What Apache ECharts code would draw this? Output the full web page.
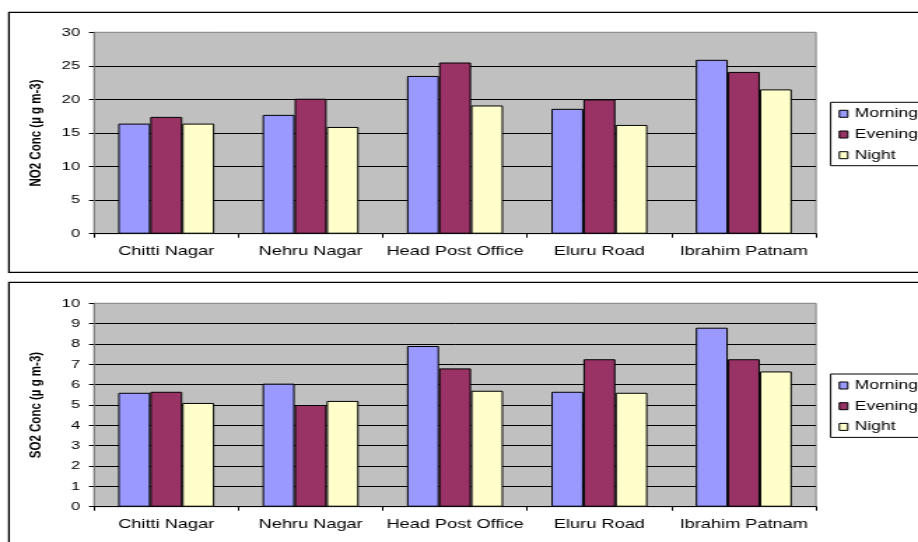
<!DOCTYPE html>
<html>
<head>
<meta charset="utf-8">
<script src="https://cdn.jsdelivr.net/npm/echarts@6/dist/echarts.min.js"></script>
<style>
  html, body { margin: 0; padding: 0; background: #fff; overflow: hidden; }
  #wrap { width: 918px; height: 542px; overflow: hidden; position: relative; }
  /* the chart is laid out on a narrower canvas and stretched horizontally */
  #chart { width: 656px; height: 542px; transform: scaleX(1.39939); transform-origin: 0 0; }
</style>
</head>
<body>
<div id="wrap"><div id="chart"></div></div>
<script>
// Sampling sites
const sites = ['Chitti Nagar', 'Nehru Nagar', 'Head Post Office', 'Eluru Road', 'Ibrahim Patnam'];
const periods = ['Morning', 'Evening', 'Night'];

// NO2 concentration (µg m-3)
const no2Morning = [16.4, 17.7, 23.5, 18.6, 25.9];
const no2Evening = [17.4, 20.1, 25.5, 20.0, 24.1];
const no2Night   = [16.4, 15.9, 19.1, 16.2, 21.5];

// SO2 concentration (µg m-3)
const so2Morning = [5.6, 6.05, 7.9, 5.65, 8.8];
const so2Evening = [5.65, 5.0, 6.8, 7.25, 7.25];
const so2Night   = [5.1, 5.2, 5.7, 5.6, 6.65];

const no2Title = 'NO2 Conc (µ g m-3)';
const so2Title = 'SO2 Conc (µ g m-3)';
const no2Axis = { min: 0, max: 30, interval: 5 };
const so2Axis = { min: 0, max: 10, interval: 1 };

const FONT = "'Liberation Sans', Arial, sans-serif";
const colors = { Morning: '#9999FF', Evening: '#993366', Night: '#FFFFCC' };

const chart = echarts.init(document.getElementById('chart'), null, { renderer: 'canvas' });

function gridDef(top, height) {
  return {
    left: 67.2, top: top, width: 515.9, height: height,
    show: true, backgroundColor: '#C0C0C0', borderColor: '#808080', borderWidth: 1
  };
}
function xAxisDef(gridIndex) {
  return {
    type: 'category', gridIndex: gridIndex, data: sites,
    axisLine: { show: true, lineStyle: { color: '#000', width: 1 } },
    axisTick: { show: true, length: 4, alignWithLabel: false, lineStyle: { color: '#000' } },
    axisLabel: { color: '#000', fontSize: 13, fontFamily: FONT, margin: 11, interval: 0 },
    splitLine: { show: false }
  };
}
function yAxisDef(gridIndex, range) {
  return {
    type: 'value', gridIndex: gridIndex, min: range.min, max: range.max, interval: range.interval,
    axisLine: { show: true, lineStyle: { color: '#808080', width: 1 } },
    axisTick: { show: true, length: 3.6, lineStyle: { color: '#000' } },
    axisLabel: { color: '#000', fontSize: 11.8, fontFamily: FONT, margin: 10 },
    splitLine: { show: true, showMaxLine: false, showMinLine: false, lineStyle: { color: '#000', width: 1 } }
  };
}
function barSeries(name, data, idx) {
  return {
    name: name, type: 'bar', xAxisIndex: idx, yAxisIndex: idx, data: data,
    barGap: '0%', barCategoryGap: '33.5%',
    itemStyle: { color: colors[name], borderColor: '#000', borderWidth: 1 },
    emphasis: { disabled: true }
  };
}
function legendDef(top) {
  return {
    orient: 'vertical', left: 593.6, top: top,
    data: periods,
    icon: 'rect', itemWidth: 6, itemHeight: 7, itemGap: 7.7,
    padding: [5, 40, 4, 5.7],
    backgroundColor: '#fff', borderColor: '#000', borderWidth: 1,
    itemStyle: { borderColor: '#000', borderWidth: 1 },
    textStyle: { color: '#000', fontSize: 12.5, fontFamily: FONT, lineHeight: 12 },
    selectedMode: false
  };
}
function yTitle(text, cy) {
  return {
    type: 'text', x: 26.2, y: cy, rotation: Math.PI / 2,
    style: { text: text, fill: '#000', font: "bold 11.5px " + FONT, align: 'center', verticalAlign: 'middle' }
  };
}

chart.setOption({
  animation: false,
  backgroundColor: '#fff',
  grid: [gridDef(32.3, 201.4), gridDef(303.3, 203.4)],
  xAxis: [xAxisDef(0), xAxisDef(1)],
  yAxis: [yAxisDef(0, no2Axis), yAxisDef(1, so2Axis)],
  legend: [legendDef(102.3), legendDef(374)],
  series: [
    barSeries('Morning', no2Morning, 0),
    barSeries('Evening', no2Evening, 0),
    barSeries('Night', no2Night, 0),
    barSeries('Morning', so2Morning, 1),
    barSeries('Evening', so2Evening, 1),
    barSeries('Night', so2Night, 1)
  ],
  graphic: [
    { type: 'rect', z: -10, silent: true, shape: { x: 6.4, y: 12.3, width: 700, height: 260 },
      style: { fill: 'none', stroke: '#000', lineWidth: 1.3 } },
    { type: 'rect', z: -10, silent: true, shape: { x: 6.4, y: 282.3, width: 700, height: 300 },
      style: { fill: 'none', stroke: '#000', lineWidth: 1.3 } },
    yTitle(no2Title, 133),
    yTitle(so2Title, 405)
  ]
});
</script>
</body>
</html>
